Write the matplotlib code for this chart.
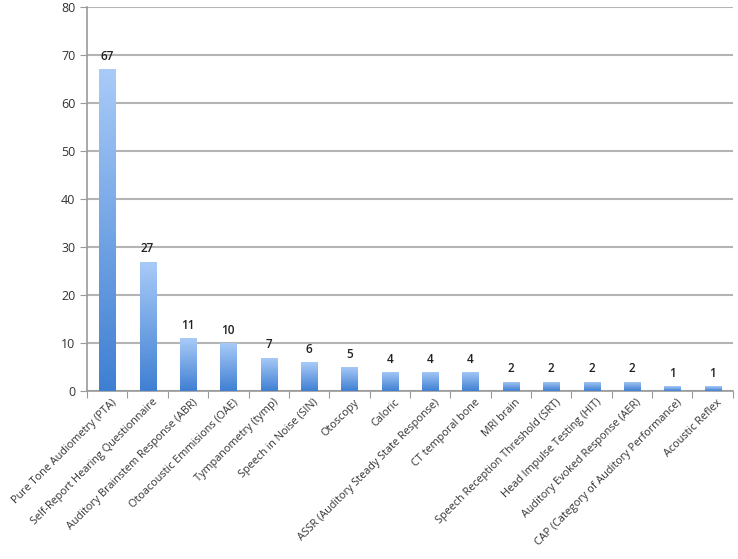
import numpy as np
import matplotlib
matplotlib.use("Agg")
import matplotlib.pyplot as plt
from matplotlib.colors import LinearSegmentedColormap

categories = ["Pure Tone Audiometry (PTA)", "Self-Report Hearing Questionnaire",
              "Auditory Brainstem Response (ABR)", "Otoacoustic Emmisions (OAE)",
              "Tympanometry (tymp)", "Speech in Noise (SIN)", "Otoscopy", "Caloric",
              "ASSR (Auditory Steady State Response)", "CT temporal bone", "MRI brain",
              "Speech Reception Threshold (SRT)", "Head Impulse Testing (HIT)",
              "Auditory Evoked Response (AER)", "CAP (Category of Auditory Performance)",
              "Acoustic Reflex"]
counts = [67, 27, 11, 10, 7, 6, 5, 4, 4, 4, 2, 2, 2, 2, 1, 1]
y_ticks = [0, 10, 20, 30, 40, 50, 60, 70, 80]

plt.rcParams['font.family'] = ['Open Sans', 'DejaVu Sans']

fig = plt.figure(figsize=(7.38, 5.59), dpi=100)
ax = fig.add_axes([0.118, 0.300, 0.875, 0.6875])

x = np.arange(len(categories))
bars = ax.bar(x, counts, width=0.4, color='none', edgecolor='none', zorder=3)

# light at top, darker blue at the base of every bar
cmap = LinearSegmentedColormap.from_list("grad", ["#3f7fd2", "#a9cbf8"])
grad = np.linspace(0, 1, 256).reshape(-1, 1)
for b in bars:
    x0, w, h = b.get_x(), b.get_width(), b.get_height()
    im = ax.imshow(grad, cmap=cmap, aspect='auto', origin='lower',
                   extent=[x0, x0 + w, 0, h], zorder=3)
    im.set_clip_path(b)

for xi, v in zip(x, counts):
    ax.text(xi, v + 1.3, str(v), ha='center', va='bottom', fontsize=8.5,
            color='#222222', fontweight='semibold')

ax.set_xlim(-0.5, len(categories) - 0.5)
ax.set_ylim(0, 80)
ax.set_yticks(y_ticks)
ax.yaxis.grid(True, color='#b4b4b4', linewidth=1.5, zorder=0)
ax.set_axisbelow(True)

ax.set_xticks(np.arange(len(categories) + 1) - 0.5)
ax.set_xticklabels([])
ax.set_xticks(x + 0.1, minor=True)
ax.set_xticklabels(categories, minor=True, rotation=45, ha='right',
                   rotation_mode='anchor', fontsize=7.8, color='#333333')
ax.tick_params(axis='x', which='minor', length=0, pad=4)
ax.tick_params(axis='x', which='major', length=5, color='#999999', direction='out')
ax.tick_params(axis='y', length=5, color='#999999', labelsize=9, labelcolor='#333333')

for s in ['top', 'right']:
    ax.spines[s].set_visible(False)
for s in ['left', 'bottom']:
    ax.spines[s].set_color('#999999')
    ax.spines[s].set_linewidth(1.2)

fig.savefig("out.png", dpi=100)
